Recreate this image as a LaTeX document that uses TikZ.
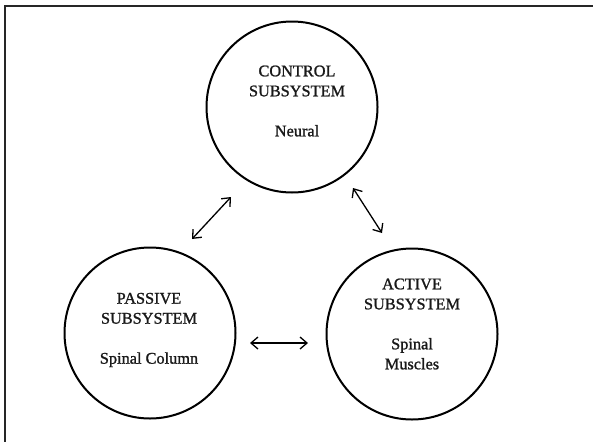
\documentclass[tikz,border=0pt]{standalone}
\usepackage{fontspec}
\setmainfont{Liberation Serif}[FakeBold=1.2]
\usetikzlibrary{arrows.meta}
\begin{document}
\begin{tikzpicture}[x=1pt,y=-1pt,
  sub/.style={circle,draw=black,line width=2pt,minimum size=171pt,inner sep=0pt},
  lbl/.style={align=center,font=\fontsize{16.3}{20}\selectfont,text=black!90,inner sep=0pt},
  link/.style={line width=1.3pt,{Straight Barb[length=7pt,width=12pt]}-{Straight Barb[length=7pt,width=12pt]}},
  frame/.style={line width=2pt,draw=black!85}]
\useasboundingbox (0,0) rectangle (593,442);
\fill[white] (0,0) rectangle (593,442);
\coordinate (ftr) at (593,6);
\coordinate (ftl) at (5,6);
\coordinate (fbl) at (5,442);
\draw[frame] (ftr) -- (ftl) -- (fbl);
\node[sub] (ctrl) at (292,107) {};
\node[sub] (pass) at (150,333) {};
\node[sub] (act) at (412,334) {};
\node[lbl] (tctrl) at (297,101) {CONTROL\\SUBSYSTEM\\[20pt]Neural};
\node[lbl] (tpass) at (149,330) {PASSIVE\\SUBSYSTEM\\[20pt]Spinal Column};
\node[lbl] (tact) at (412,324) {ACTIVE\\SUBSYSTEM\\[20pt]Spinal\\Muscles};
\coordinate (a1) at (192,239);
\coordinate (a2) at (231,197);
\coordinate (b1) at (353,188);
\coordinate (b2) at (382,233);
\coordinate (c1) at (250,343);
\coordinate (c2) at (308,343);
\draw[link] (a1) -- (a2);
\draw[link] (b1) -- (b2);
\draw[link] (c1) -- (c2);
\end{tikzpicture}
\end{document}
